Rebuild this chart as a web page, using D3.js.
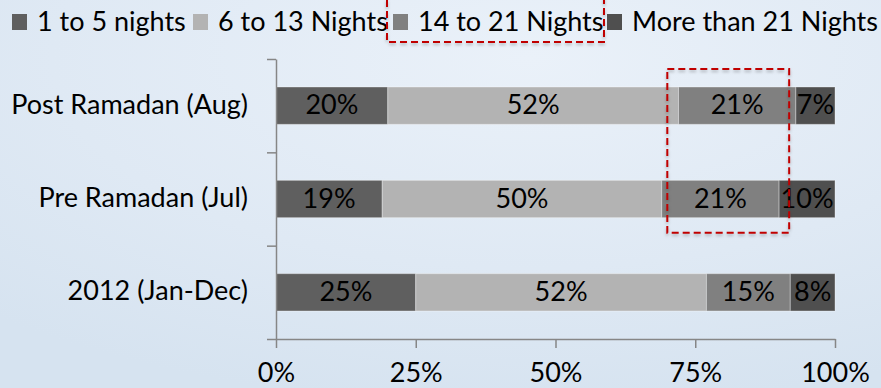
<!DOCTYPE html>
<html>
<head>
<meta charset="utf-8">
<script src="https://cdn.jsdelivr.net/npm/d3@7"></script>
<style>
	html, body { margin: 0; padding: 0; }
	body { width: 881px; height: 388px; overflow: hidden; }
	text { font-family: Lato, "Open Sans", sans-serif; fill: #000; }
</style>
</head>
<body>
<div id="chart"></div>
<script>

var categories = ["Post Ramadan (Aug)", "Pre Ramadan (Jul)", "2012 (Jan-Dec)"];
var seriesNames = ["1 to 5 nights", "6 to 13 Nights", "14 to 21 Nights", "More than 21 Nights"];
var nights1to5 = [20, 19, 25];
var nights6to13 = [52, 50, 52];
var nights14to21 = [21, 21, 15];
var nightsOver21 = [7, 10, 8];
var xTicks = [0, 25, 50, 75, 100];

var colors = ["#5f5f5f", "#b3b3b3", "#808080", "#4f4f4f"];
var fontSize = 27;

var chart = {
	width: 881,
	height: 388,
	left: 276,
	right: 835,
	top: 59,
	bottom: 339
};

var svg = d3.select('#chart')
	.append('svg')
	.attr('width', chart.width)
	.attr('height', chart.height);

var defs = svg.append('defs');

var bg = defs.append('radialGradient')
	.attr('id', 'bg')
	.attr('cx', '60%')
	.attr('cy', '15%')
	.attr('r', '90%');
bg.append('stop').attr('offset', '0%').attr('stop-color', '#eaf1f9');
bg.append('stop').attr('offset', '60%').attr('stop-color', '#dfe9f4');
bg.append('stop').attr('offset', '100%').attr('stop-color', '#d6e3f0');

var shadow = defs.append('filter')
	.attr('id', 'shadow')
	.attr('x', '-20%').attr('y', '-20%')
	.attr('width', '140%').attr('height', '160%');
shadow.append('feDropShadow')
	.attr('dx', 0).attr('dy', 2)
	.attr('stdDeviation', 1.5)
	.attr('flood-color', '#000')
	.attr('flood-opacity', 0.25);

svg.append('rect')
	.attr('width', chart.width)
	.attr('height', chart.height)
	.attr('fill', 'url(#bg)');

// stack the series
var seriesValues = [nights1to5, nights6to13, nights14to21, nightsOver21];
var rows = categories.map(function (c, i) {
	var row = { category: c };
	seriesNames.forEach(function (s, j) { row[s] = seriesValues[j][i]; });
	return row;
});
var stacked = d3.stack().keys(seriesNames)(rows);

var xScale = d3.scaleLinear()
	.domain([0, 100])
	.range([chart.left, chart.right]);

var yScale = d3.scaleBand()
	.domain(categories)
	.range([chart.top, chart.bottom])
	.paddingInner(0.6)
	.paddingOuter(0.3);

// bars
var layers = svg.append('g').selectAll('g')
	.data(stacked)
	.enter().append('g')
	.attr('fill', function (d, i) { return colors[i]; });

layers.selectAll('rect')
	.data(function (d) { return d; })
	.enter().append('rect')
	.attr('x', function (d) { return xScale(d[0]); })
	.attr('y', function (d) { return yScale(d.data.category); })
	.attr('width', function (d) { return xScale(d[1]) - xScale(d[0]); })
	.attr('height', yScale.bandwidth())
	.style('stroke', 'rgba(255,255,255,0.35)')
	.style('stroke-width', 1);

layers.selectAll('text')
	.data(function (d) { return d; })
	.enter().append('text')
	.attr('x', function (d) { return (xScale(d[0]) + xScale(d[1])) / 2; })
	.attr('y', function (d) { return yScale(d.data.category) + yScale.bandwidth() / 2; })
	.attr('dy', '0.32em')
	.attr('text-anchor', 'middle')
	.style('font-size', fontSize + 'px')
	.text(function (d) { return (d[1] - d[0]) + '%'; });

// axes
var xAxis = d3.axisBottom(xScale)
	.tickValues(xTicks)
	.tickFormat(function (d) { return d + '%'; })
	.tickSize(9)
	.tickSizeOuter(0);

var gx = svg.append('g')
	.attr('class', 'x-axis')
	.attr('transform', 'translate(0,' + chart.bottom + ')')
	.call(xAxis);

gx.selectAll('text')
	.attr('y', 43)
	.attr('dy', 0)
	.attr('fill', '#000')
	.style('font-size', fontSize + 'px')
	.style('font-family', 'Lato, sans-serif');

// category axis ticks sit between the bars
var yTickScale = d3.scaleLinear()
	.domain([0, categories.length])
	.range([chart.bottom, chart.top]);

var yAxis = d3.axisLeft(yTickScale)
	.ticks(categories.length)
	.tickFormat('')
	.tickSize(9)
	.tickSizeOuter(0);

svg.append('g')
	.attr('class', 'y-axis')
	.attr('transform', 'translate(' + chart.left + ',0)')
	.call(yAxis);

svg.selectAll('.x-axis path, .x-axis line, .y-axis path, .y-axis line')
	.style('stroke', '#868686')
	.style('stroke-width', 1.5);

svg.append('g').selectAll('text')
	.data(categories)
	.enter().append('text')
	.attr('x', 248)
	.attr('y', function (d) { return yScale(d) + yScale.bandwidth() / 2; })
	.attr('dy', '0.3em')
	.attr('text-anchor', 'end')
	.style('font-size', fontSize + 'px')
	.text(function (d) { return d; });

// legend
var legendX = [12, 193, 393, 607];

var legend = svg.append('g').selectAll('g')
	.data(seriesNames)
	.enter().append('g')
	.attr('transform', function (d, i) { return 'translate(' + legendX[i] + ',0)'; });

legend.append('rect')
	.attr('y', 14)
	.attr('width', 15)
	.attr('height', 16)
	.attr('fill', function (d, i) { return colors[i]; });

legend.append('text')
	.attr('x', 25)
	.attr('y', 31)
	.style('font-size', fontSize + 'px')
	.text(function (d) { return d; });

// annotation: highlight of 14 to 21 nights
svg.append('line')
	.attr('x1', xScale(91.6))
	.attr('x2', chart.width)
	.attr('y1', 151)
	.attr('y2', 151)
	.style('stroke', '#7f7f7f')
	.style('stroke-width', 5)
	.attr('filter', 'url(#shadow)');

var boxStyle = function (sel) {
	sel.attr('fill', 'none')
		.style('stroke', '#c00000')
		.style('stroke-width', 2)
		.style('stroke-dasharray', '7,4')
		.attr('filter', 'url(#shadow)');
};

svg.append('rect')
	.attr('x', 387)
	.attr('y', -6)
	.attr('width', 217)
	.attr('height', 48)
	.call(boxStyle);

svg.append('rect')
	.attr('x', xScale(70))
	.attr('y', yScale(categories[0]) - 18)
	.attr('width', xScale(91.8) - xScale(70))
	.attr('height', yScale(categories[1]) + yScale.bandwidth() + 15 - (yScale(categories[0]) - 18))
	.call(boxStyle);

</script>
</body>
</html>
